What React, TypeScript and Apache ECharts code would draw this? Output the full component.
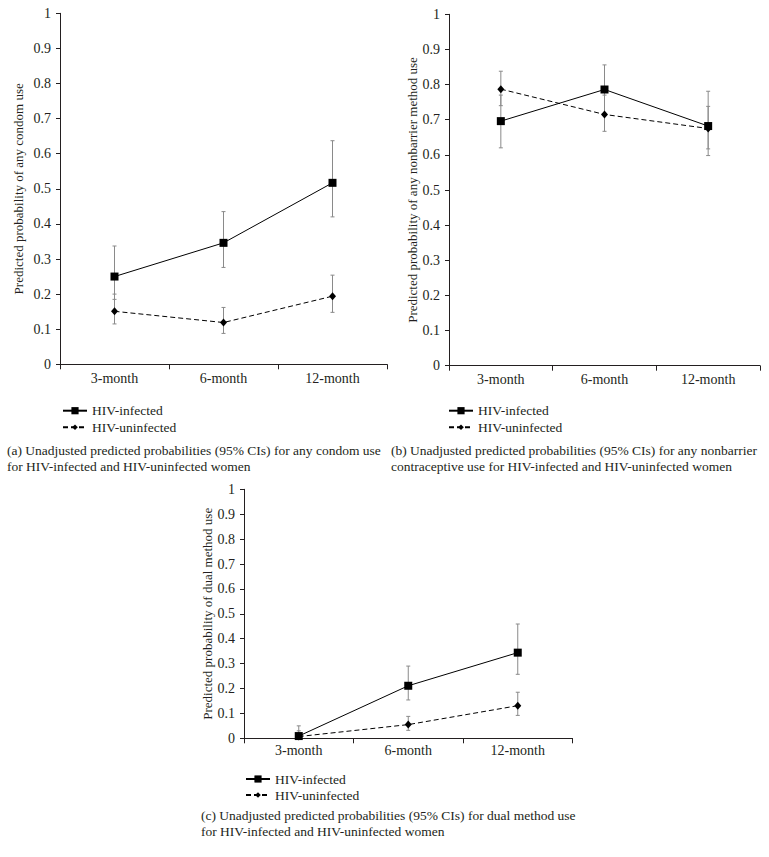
import React, { useEffect, useRef } from "react";
import * as echarts from "echarts";

const months = ["3-month", "6-month", "12-month"];
const yTicks = [0, 0.1, 0.2, 0.3, 0.4, 0.5, 0.6, 0.7, 0.8, 0.9, 1];
const seriesNames = ["HIV-infected", "HIV-uninfected"];

// (a) any condom use
const condomInfected = [0.25, 0.346, 0.517];
const condomInfectedLow = [0.185, 0.276, 0.42];
const condomInfectedHigh = [0.337, 0.435, 0.637];
const condomUninfected = [0.151, 0.119, 0.194];
const condomUninfectedLow = [0.115, 0.088, 0.148];
const condomUninfectedHigh = [0.2, 0.162, 0.254];

// (b) any nonbarrier method use
const nonbarrierInfected = [0.696, 0.786, 0.682];
const nonbarrierInfectedLow = [0.62, 0.713, 0.598];
const nonbarrierInfectedHigh = [0.77, 0.856, 0.781];
const nonbarrierUninfected = [0.787, 0.715, 0.675];
const nonbarrierUninfectedLow = [0.74, 0.667, 0.617];
const nonbarrierUninfectedHigh = [0.838, 0.77, 0.738];

// (c) dual method use
const dualInfected = [0.009, 0.211, 0.344];
const dualInfectedLow = [0.0, 0.154, 0.257];
const dualInfectedHigh = [0.05, 0.29, 0.459];
const dualUninfected = [0.007, 0.055, 0.131];
const dualUninfectedLow = [0.0, 0.032, 0.092];
const dualUninfectedHigh = [0.03, 0.088, 0.185];

const yNames = [
  "Predicted probability of any condom use",
  "Predicted probability of any nonbarrier method use",
  "Predicted probability of dual method use",
];
const captions = [
  "(a) Unadjusted predicted probabilities (95% CIs) for any condom use\nfor HIV-infected and HIV-uninfected women",
  "(b) Unadjusted predicted probabilities (95% CIs) for any nonbarrier\ncontraceptive use for HIV-infected and HIV-uninfected women",
  "(c) Unadjusted predicted probabilities (95% CIs) for dual method use\nfor HIV-infected and HIV-uninfected women",
];

const FONT = "Liberation Serif";
const INK = "#231f20";
const BAR = "#8a8a8a";

const panels = [
  {
    inf: condomInfected, infLo: condomInfectedLow, infHi: condomInfectedHigh,
    un: condomUninfected, unLo: condomUninfectedLow, unHi: condomUninfectedHigh,
  },
  {
    inf: nonbarrierInfected, infLo: nonbarrierInfectedLow, infHi: nonbarrierInfectedHigh,
    un: nonbarrierUninfected, unLo: nonbarrierUninfectedLow, unHi: nonbarrierUninfectedHigh,
  },
  {
    inf: dualInfected, infLo: dualInfectedLow, infHi: dualInfectedHigh,
    un: dualUninfected, unLo: dualUninfectedLow, unHi: dualUninfectedHigh,
  },
];

const grids = [
  { left: 60, top: 13.3, width: 327, height: 351 },
  { left: 449, top: 14.3, width: 311, height: 351.4 },
  { left: 244, top: 489.3, width: 328.5, height: 249 },
];
const nameGaps = [35, 30, 30];
const labelMargins = [7, 7, 5.5];
const legendPos = [
  { left: 62, top: [403.7, 420.3] },
  { left: 448, top: [403.7, 420.3] },
  { left: 245, top: [772, 788] },
];
const captionPos = [
  { left: 7, top: 442 },
  { left: 391, top: 442 },
  { left: 201, top: 807 },
];

function errorRender(params: any, api: any) {
  const x = api.value(0);
  const lo = api.coord([x, api.value(1)]);
  const hi = api.coord([x, api.value(2)]);
  const cap = 2;
  const style = { stroke: BAR, lineWidth: 1 };
  return {
    type: "group",
    children: [
      { type: "line", shape: { x1: lo[0], y1: lo[1], x2: hi[0], y2: hi[1] }, style },
      { type: "line", shape: { x1: lo[0] - cap, y1: lo[1], x2: lo[0] + cap, y2: lo[1] }, style },
      { type: "line", shape: { x1: hi[0] - cap, y1: hi[1], x2: hi[0] + cap, y2: hi[1] }, style },
    ],
  };
}

export default function App() {
  const ref = useRef<HTMLDivElement>(null);
  useEffect(() => {
    if (!ref.current) return;
    const chart = echarts.init(ref.current, null, { renderer: "svg" });

    const textStyle = { fontFamily: FONT, color: INK };
    const series: any[] = [];
    panels.forEach((p, i) => {
      series.push({
        type: "custom",
        name: "ci-inf-" + i,
        xAxisIndex: i,
        yAxisIndex: i,
        z: 1,
        renderItem: errorRender,
        encode: { x: 0, y: [1, 2] },
        data: months.map((_, k) => [k, p.infLo[k], p.infHi[k]]),
      });
      series.push({
        type: "custom",
        name: "ci-un-" + i,
        xAxisIndex: i,
        yAxisIndex: i,
        z: 1,
        renderItem: errorRender,
        encode: { x: 0, y: [1, 2] },
        data: months.map((_, k) => [k, p.unLo[k], p.unHi[k]]),
      });
      series.push({
        type: "line",
        name: seriesNames[1],
        xAxisIndex: i,
        yAxisIndex: i,
        z: 3,
        data: p.un,
        symbol: "diamond",
        symbolSize: [7, 8],
        itemStyle: { color: "#000" },
        lineStyle: { color: "#000", width: 1, type: [5, 3] },
      });
      series.push({
        type: "line",
        name: seriesNames[0],
        xAxisIndex: i,
        yAxisIndex: i,
        z: 4,
        data: p.inf,
        symbol: "rect",
        symbolSize: 8,
        itemStyle: { color: "#000" },
        lineStyle: { color: "#000", width: 1, type: "solid" },
      });
    });

    const legends: any[] = [];
    legendPos.forEach((lp) => {
      seriesNames.forEach((n, j) => {
        legends.push({
          data: [n],
          left: lp.left,
          top: lp.top[j],
          padding: 0,
          itemWidth: 24,
          itemHeight: j === 0 ? 9 : 7,
          selectedMode: false,
          textStyle: { ...textStyle, fontSize: 13.5, lineHeight: 14 },
        });
      });
    });

    chart.setOption({
      animation: false,
      backgroundColor: "#fff",
      title: captions.map((c, i) => ({
        text: c,
        left: captionPos[i].left,
        top: captionPos[i].top,
        padding: 0,
        textStyle: { ...textStyle, fontSize: 13.5, fontWeight: "normal", lineHeight: 16 },
      })),
      legend: legends,
      grid: grids.map((g) => ({ ...g, containLabel: false })),
      xAxis: grids.map((_, i) => ({
        type: "category",
        gridIndex: i,
        data: months,
        boundaryGap: true,
        axisLine: { lineStyle: { color: INK, width: 1 } },
        axisTick: { show: true, length: 5, lineStyle: { color: INK } },
        axisLabel: { ...textStyle, fontSize: 14, margin: labelMargins[i] },
        splitLine: { show: false },
      })),
      yAxis: grids.map((_, i) => ({
        type: "value",
        gridIndex: i,
        min: yTicks[0],
        max: yTicks[yTicks.length - 1],
        interval: 0.1,
        name: yNames[i],
        nameLocation: "middle",
        nameGap: nameGaps[i],
        nameTextStyle: { ...textStyle, fontSize: 13 },
        axisLine: { show: true, lineStyle: { color: INK, width: 1 } },
        axisTick: { show: true, length: 4, lineStyle: { color: INK } },
        axisLabel: {
          ...textStyle,
          fontSize: 14,
          margin: 9,
          formatter: (v: number) => (v === 0 ? "0" : v === 1 ? "1" : v.toFixed(1)),
        },
        splitLine: { show: false },
      })),
      series,
    });
    return () => chart.dispose();
  }, []);

  return (
    <div
      ref={ref}
      style={{ position: "absolute", left: 0, top: 0, width: 769, height: 857 }}
    />
  );
}
